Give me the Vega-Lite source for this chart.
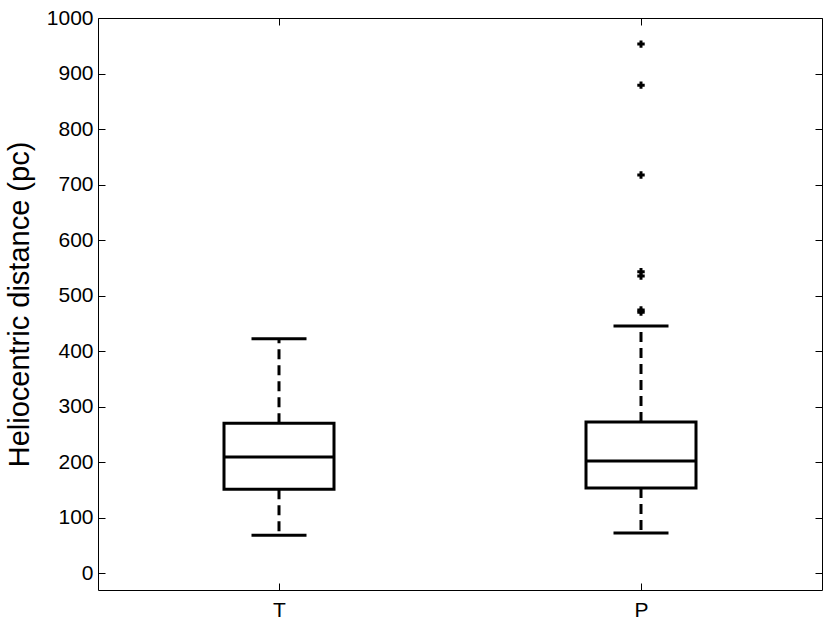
{
  "$schema": "https://vega.github.io/schema/vega-lite/v6.json",
  "width": 724,
  "height": 572,
  "autosize": "none",
  "padding": {"left": 98, "top": 18, "right": 8, "bottom": 31},
  "background": "white",
  "config": {
    "view": {"stroke": "#000", "strokeWidth": 1},
    "font": "Liberation Sans",
    "axis": {
      "domain": false,
      "grid": false,
      "tickColor": "#000",
      "tickWidth": 1,
      "labelColor": "#000",
      "titleColor": "#000",
      "labelFont": "Liberation Sans",
      "titleFont": "Liberation Sans",
      "titleFontWeight": "normal"
    }
  },
  "datasets": {
    "boxes": [
      {"group": "T", "lower": 68, "q1": 151, "median": 209, "q3": 270, "upper": 422},
      {"group": "P", "lower": 72, "q1": 153, "median": 202, "q3": 272, "upper": 445}
    ],
    "outliers": [
      {"group": "P", "value": 953},
      {"group": "P", "value": 879},
      {"group": "P", "value": 717},
      {"group": "P", "value": 543},
      {"group": "P", "value": 535},
      {"group": "P", "value": 474},
      {"group": "P", "value": 470}
    ]
  },
  "layer": [
    {
      "data": {"name": "boxes"},
      "mark": {"type": "rule", "strokeWidth": 3, "strokeDash": [10, 6], "color": "#000"},
      "encoding": {
        "x": {
          "field": "group",
          "type": "nominal",
          "scale": {"type": "point", "domain": ["T", "P"], "padding": 0.5},
          "axis": {
            "title": null,
            "labelAngle": 0,
            "labelFontSize": 21,
            "tickSize": -7,
            "labelPadding": 16,
            "orient": "bottom"
          }
        },
        "y": {
          "field": "q3",
          "type": "quantitative",
          "scale": {"domain": [-30.6, 1000], "nice": false, "zero": false},
          "axis": {
            "title": "Heliocentric distance (pc)",
            "titleFontSize": 29,
            "titlePadding": 12,
            "labelFontSize": 21,
            "format": "d",
            "values": [0, 100, 200, 300, 400, 500, 600, 700, 800, 900, 1000],
            "tickSize": -7,
            "labelPadding": 12,
            "orient": "left"
          }
        },
        "y2": {"field": "upper"}
      }
    },
    {
      "data": {"name": "boxes"},
      "mark": {"type": "rule", "strokeWidth": 3, "strokeDash": [10, 6], "color": "#000"},
      "encoding": {
        "x": {"field": "group", "type": "nominal", "axis": null},
        "y": {"field": "q1", "type": "quantitative", "axis": null},
        "y2": {"field": "lower"}
      }
    },
    {
      "data": {"name": "boxes"},
      "mark": {"type": "bar", "width": 110, "fill": "white", "stroke": "#000", "strokeWidth": 3},
      "encoding": {
        "x": {"field": "group", "type": "nominal", "axis": null},
        "y": {"field": "q1", "type": "quantitative", "axis": null},
        "y2": {"field": "q3"}
      }
    },
    {
      "data": {"name": "boxes"},
      "mark": {"type": "tick", "size": 110, "thickness": 3, "color": "#000", "opacity": 1},
      "encoding": {
        "x": {"field": "group", "type": "nominal", "axis": null},
        "y": {"field": "median", "type": "quantitative", "axis": null}
      }
    },
    {
      "data": {"name": "boxes"},
      "mark": {"type": "tick", "size": 55, "thickness": 3, "color": "#000", "opacity": 1},
      "encoding": {
        "x": {"field": "group", "type": "nominal", "axis": null},
        "y": {"field": "upper", "type": "quantitative", "axis": null}
      }
    },
    {
      "data": {"name": "boxes"},
      "mark": {"type": "tick", "size": 55, "thickness": 3, "color": "#000", "opacity": 1},
      "encoding": {
        "x": {"field": "group", "type": "nominal", "axis": null},
        "y": {"field": "lower", "type": "quantitative", "axis": null}
      }
    },
    {
      "data": {"name": "outliers"},
      "mark": {"type": "point", "shape": "cross", "filled": true, "size": 55, "color": "#000", "opacity": 1},
      "encoding": {
        "x": {
          "field": "group",
          "type": "nominal",
          "axis": {"orient": "top", "title": null, "labels": false, "tickSize": -7}
        },
        "y": {
          "field": "value",
          "type": "quantitative",
          "axis": {
            "orient": "right",
            "title": null,
            "labels": false,
            "tickSize": -7,
            "values": [0, 100, 200, 300, 400, 500, 600, 700, 800, 900, 1000]
          }
        }
      }
    }
  ],
  "resolve": {"scale": {"x": "shared", "y": "shared"}, "axis": {"x": "independent", "y": "independent"}}
}
